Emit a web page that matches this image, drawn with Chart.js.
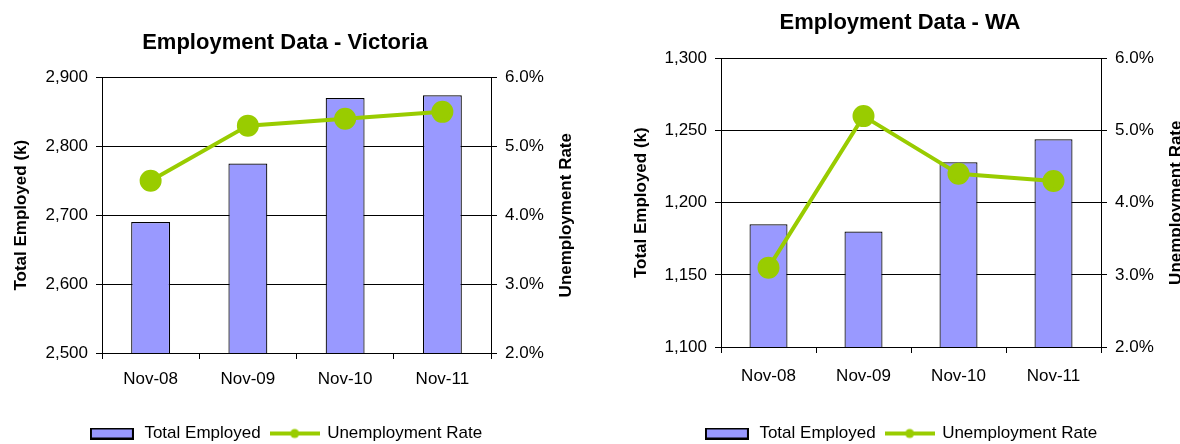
<!DOCTYPE html>
<html>
<head>
<meta charset="utf-8">
<title>Employment Data</title>
<script src="https://cdn.jsdelivr.net/npm/chart.js@4/dist/chart.umd.min.js"></script>
<style>
    html, body { margin: 0; padding: 0; background: #fff; }
    .chart-box { position: absolute; top: 0; width: 590px; height: 444px; }
    #box-vic { left: 0; }
    #box-wa { left: 590px; }
</style>
</head>
<body>
<div class="chart-box" id="box-vic"><canvas id="chart-vic" width="590" height="444"></canvas></div>
<div class="chart-box" id="box-wa"><canvas id="chart-wa" width="590" height="444"></canvas></div>
<script>
// ── Data ─────────────────────────────────────────────────
const categories = ['Nov-08', 'Nov-09', 'Nov-10', 'Nov-11'];

const vicEmployed = [2690, 2775, 2870, 2874];
const vicRate = [4.5, 5.3, 5.4, 5.5];

const waEmployed = [1185, 1180, 1228, 1244];
const waRate = [3.1, 5.2, 4.4, 4.3];

const vicEmployedTicks = [2500, 2600, 2700, 2800, 2900];
const waEmployedTicks = [1100, 1150, 1200, 1250, 1300];
const rateTicks = [2, 3, 4, 5, 6];

const BAR_FILL = '#9999FF';
const LINE_GREEN = '#99CC00';
const FONT = "'Liberation Sans', Arial, sans-serif";

Chart.defaults.font.family = FONT;
Chart.defaults.color = '#000';

// legend markers (bar box and line-with-dot, Excel style)
function barMarker() {
    const c = document.createElement('canvas');
    c.width = 44; c.height = 12;
    const g = c.getContext('2d');
    g.fillStyle = BAR_FILL;
    g.fillRect(1, 1, 42, 10);
    g.lineWidth = 2;
    g.strokeStyle = '#000';
    g.strokeRect(1, 1, 42, 10);
    return c;
}

function lineMarker() {
    const c = document.createElement('canvas');
    c.width = 50; c.height = 12;
    const g = c.getContext('2d');
    g.strokeStyle = LINE_GREEN;
    g.lineWidth = 4;
    g.beginPath();
    g.moveTo(0, 6); g.lineTo(50, 6);
    g.stroke();
    g.fillStyle = LINE_GREEN;
    g.beginPath();
    g.arc(25, 6, 4.5, 0, Math.PI * 2);
    g.fill();
    return c;
}

// Excel writes the right axis title bottom-to-top, Chart.js turns it the other way
const rightTitlePlugin = {
    id: 'rightTitle',
    afterDraw(chart, args, opts) {
        const s = chart.scales.y1;
        const c = chart.ctx;
        c.save();
        c.translate(s.right - opts.offset, (s.top + s.bottom) / 2);
        c.rotate(-Math.PI / 2);
        c.font = 'bold 17px ' + FONT;
        c.fillStyle = '#000';
        c.textAlign = 'center';
        c.textBaseline = 'middle';
        c.fillText(opts.text, 0, 0);
        c.restore();
    }
};

function buildChart(id, o) {
    const ctx = document.getElementById(id).getContext('2d');
    const ticks = o.employedTicks;

    return new Chart(ctx, {
        type: 'bar',
        data: {
            labels: categories,
            datasets: [
                {
                    type: 'bar',
                    label: 'Total Employed',
                    data: o.employed,
                    yAxisID: 'y',
                    backgroundColor: BAR_FILL,
                    borderColor: '#000',
                    borderWidth: 1.2,
                    barPercentage: 0.4,
                    categoryPercentage: 1,
                    order: 2
                },
                {
                    type: 'line',
                    label: 'Unemployment Rate',
                    data: o.rate,
                    yAxisID: 'y1',
                    borderColor: LINE_GREEN,
                    backgroundColor: LINE_GREEN,
                    borderWidth: 4,
                    pointRadius: 9,
                    pointHoverRadius: 9,
                    pointBackgroundColor: LINE_GREEN,
                    pointBorderColor: LINE_GREEN,
                    tension: 0,
                    order: 1
                }
            ]
        },
        plugins: [rightTitlePlugin],
        options: {
            responsive: false,
            animation: false,
            events: [],
            layout: { padding: o.padding },
            plugins: {
                title: {
                    display: true,
                    text: o.title,
                    color: '#000',
                    font: { size: 22, weight: 'bold' },
                    padding: { top: o.titleTop, bottom: o.titleBottom }
                },
                legend: {
                    position: 'bottom',
                    labels: {
                        usePointStyle: true,
                        pointStyleWidth: 48,
                        padding: 10,
                        color: '#000',
                        font: { size: 17 },
                        generateLabels: () => [
                            { text: 'Total Employed', pointStyle: barMarker(), fillStyle: BAR_FILL, strokeStyle: '#000', lineWidth: 0, hidden: false, datasetIndex: 0 },
                            { text: 'Unemployment Rate', pointStyle: lineMarker(), fillStyle: LINE_GREEN, strokeStyle: LINE_GREEN, lineWidth: 0, hidden: false, datasetIndex: 1 }
                        ]
                    }
                },
                tooltip: { enabled: false },
                rightTitle: { text: 'Unemployment Rate', offset: 4 }
            },
            scales: {
                x: {
                    grid: { offset: true, drawOnChartArea: false, drawTicks: true, tickLength: 6, color: '#000' },
                    border: { color: '#000', width: 1 },
                    ticks: { font: { size: 17 }, padding: o.xPad, maxRotation: 0 },
                    afterFit: s => { s.height = o.xHeight; }
                },
                y: {
                    position: 'left',
                    min: ticks[0],
                    max: ticks[ticks.length - 1],
                    ticks: {
                        stepSize: ticks[1] - ticks[0],
                        padding: 8,
                        font: { size: 17 },
                        callback: v => v.toLocaleString('en-US')
                    },
                    grid: { color: '#000', tickLength: 6, drawTicks: true },
                    border: { color: '#000', width: 1 },
                    title: {
                        display: true,
                        text: 'Total Employed (k)',
                        font: { size: 17, weight: 'bold' },
                        padding: { top: 11, bottom: 0 }
                    },
                    afterFit: s => { s.width = o.yWidth; }
                },
                y1: {
                    position: 'right',
                    min: rateTicks[0],
                    max: rateTicks[rateTicks.length - 1],
                    ticks: {
                        stepSize: rateTicks[1] - rateTicks[0],
                        padding: 8,
                        font: { size: 17 },
                        callback: v => v.toFixed(1) + '%'
                    },
                    grid: { drawOnChartArea: false, tickLength: 6, color: '#000' },
                    border: { color: '#000', width: 1 },
                    afterFit: s => { s.width = 79; }
                }
            }
        }
    });
}

buildChart('chart-vic', {
    title: 'Employment Data - Victoria',
    employed: vicEmployed,
    rate: vicRate,
    employedTicks: vicEmployedTicks,
    padding: { left: 0, right: 20, top: 0, bottom: -8 },
    titleTop: 30,
    titleBottom: 21,
    xHeight: 62,
    xPad: 10,
    yWidth: 102
});

buildChart('chart-wa', {
    title: 'Employment Data - WA',
    employed: waEmployed,
    rate: waRate,
    employedTicks: waEmployedTicks,
    padding: { left: 30, right: 0, top: 0, bottom: -8 },
    titleTop: 10,
    titleBottom: 22,
    xHeight: 68,
    xPad: 13,
    yWidth: 101
});
</script>
</body>
</html>
